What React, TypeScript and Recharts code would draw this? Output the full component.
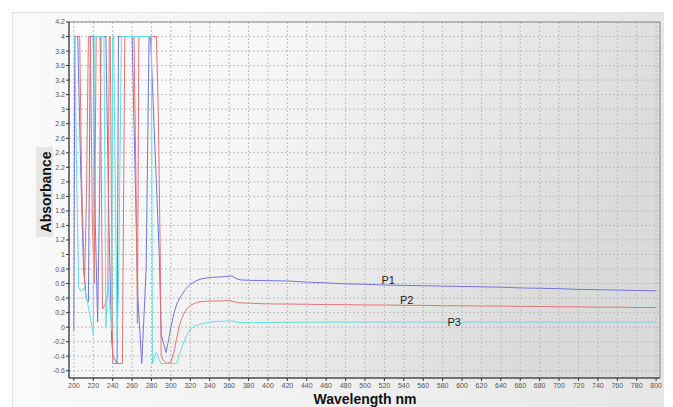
import React from 'react';
import { LineChart, Line, XAxis, YAxis, CartesianGrid, ReferenceArea, ReferenceDot } from 'recharts';

const xTicks = [200, 220, 240, 260, 280, 300, 320, 340, 360, 380, 400, 420, 440, 460, 480, 500, 520, 540, 560, 580, 600, 620, 640, 660, 680, 700, 720, 740, 760, 780, 800];
const yTicks = [-0.6, -0.4, -0.2, 0, 0.2, 0.4, 0.6, 0.8, 1, 1.2, 1.4, 1.6, 1.8, 2, 2.2, 2.4, 2.6, 2.8, 3, 3.2, 3.4, 3.6, 3.8, 4, 4.2];

const p1Wavelength = [200, 201, 204, 207, 210, 213, 215, 217, 220, 222, 224.5, 226.5, 228, 233, 236, 239, 240.5, 244.5, 246, 260, 263, 266, 270, 274.5, 277.5, 279, 282, 288, 290, 292, 295, 298, 300, 303, 306, 310, 315, 320, 325, 330, 340, 350, 360, 363, 367, 372, 380, 400, 420, 440, 460, 480, 500, 520, 540, 560, 580, 600, 620, 640, 660, 680, 700, 720, 740, 760, 780, 800];
const p1Absorbance = [-0.05, 4, 4, 2.2, 0.8, 0.38, 0.35, 4, 4, 1.5, 0.07, 1.8, 4, 4, 1.5, -0.2, -0.4, -0.5, 4, 4, 2.2, 0.4, -0.5, 0.8, 4, 4, 3.0, 1.0, -0.1, -0.2, -0.35, -0.15, 0, 0.18, 0.32, 0.42, 0.52, 0.59, 0.63, 0.66, 0.685, 0.69, 0.7, 0.705, 0.67, 0.65, 0.645, 0.64, 0.635, 0.62, 0.61, 0.595, 0.59, 0.58, 0.575, 0.57, 0.565, 0.56, 0.555, 0.55, 0.54, 0.535, 0.53, 0.52, 0.515, 0.51, 0.505, 0.5];

const p2Wavelength = [200, 206, 208, 211, 213, 215, 217, 219, 221, 223, 227, 229.5, 232, 235, 236.5, 237.5, 240, 250, 252.5, 262, 264, 265.5, 267, 285, 287, 289, 290, 292, 296, 300, 303, 306, 309, 313, 317, 320, 325, 330, 340, 350, 360, 365, 370, 380, 400, 420, 440, 460, 480, 500, 520, 540, 560, 580, 600, 620, 640, 660, 680, 700, 720, 740, 760, 780, 800];
const p2Absorbance = [4, 4, 2.0, 0.6, 1.8, 4, 4, 1.5, 0.6, 4, 4, 0.25, 0.3, 0.45, 4, 4, -0.5, -0.5, 4, 4, 2.0, 0.05, 4, 4, 3.0, 1.0, -0.4, -0.45, -0.5, -0.48, -0.35, -0.15, 0.03, 0.18, 0.26, 0.3, 0.33, 0.35, 0.36, 0.36, 0.365, 0.35, 0.335, 0.33, 0.32, 0.318, 0.315, 0.31, 0.31, 0.305, 0.305, 0.3, 0.3, 0.295, 0.295, 0.29, 0.29, 0.285, 0.285, 0.28, 0.28, 0.275, 0.275, 0.27, 0.27];

const p3Wavelength = [200, 201, 203, 205, 207, 209, 211, 216, 220, 221, 231, 233, 235, 237, 239, 240, 241, 244.5, 246, 249, 280, 281, 285, 288, 290, 306, 310, 315, 320, 325, 330, 340, 350, 360, 365, 370, 380, 400, 450, 500, 550, 600, 650, 700, 750, 800];
const p3Absorbance = [4, 4, 2.0, 0.55, 0.5, 0.5, 0.55, 0.2, -0.1, 4, 4, 0.0, 0.65, 0.3, -0.05, 4, 4, -0.15, 0.5, 4, 4, -0.5, -0.35, -0.45, -0.5, -0.5, -0.33, -0.15, -0.03, 0.02, 0.04, 0.07, 0.08, 0.085, 0.08, 0.065, 0.06, 0.065, 0.068, 0.07, 0.07, 0.07, 0.07, 0.07, 0.07, 0.07];

const seriesNames = ['P1', 'P2', 'P3'];
const labelWavelength = [524, 543, 592];
const labelAbsorbance = [0.65, 0.373, 0.071];

const toPoints = (xs: number[], ys: number[]) => xs.map((x, i) => ({ x, y: ys[i] }));
const p1Data = toPoints(p1Wavelength, p1Absorbance);
const p2Data = toPoints(p2Wavelength, p2Absorbance);
const p3Data = toPoints(p3Wavelength, p3Absorbance);

const FONT = '"Liberation Sans", Arial, sans-serif';
const tickStyle = { fontSize: 7, fill: '#555', fontFamily: FONT };

export default function App() {
  return (
    <div style={{ position: 'absolute', left: 0, top: 0, width: 673, height: 407, background: '#ffffff', overflow: 'hidden', fontFamily: FONT }}>
      <div style={{ position: 'absolute', left: 12, top: 12, width: 651, height: 400, borderTop: '1px solid #e2e2e2', borderLeft: '1px solid #e2e2e2', background: 'linear-gradient(to right, #fafafa 0%, #f2f2f2 40%, #e6e6e6 100%)' }} />
      <div style={{ position: 'absolute', left: 36, top: 147, width: 17, height: 90, background: '#e6e6e6' }} />
      <div style={{ position: 'absolute', left: 0, top: 0 }}>
        <LineChart width={673} height={407} margin={{ top: 22, right: 13, bottom: 0, left: 0 }}>
          <defs>
            <linearGradient id="plotBg" x1="0" y1="0" x2="1" y2="0.35">
              <stop offset="0%" stopColor="#fdfdfd" />
              <stop offset="35%" stopColor="#f6f6f6" />
              <stop offset="100%" stopColor="#dadada" />
            </linearGradient>
          </defs>
          <CartesianGrid stroke="#bdbdbd" strokeDasharray="2 2" fill="url(#plotBg)" fillOpacity={1} />
          <XAxis
            dataKey="x"
            type="number"
            domain={[195, 804]}
            ticks={xTicks}
            interval={0}
            allowDataOverflow
            height={29}
            tick={tickStyle}
            tickSize={3}
            tickMargin={2}
            axisLine={{ stroke: '#333' }}
            tickLine={{ stroke: '#333' }}
          />
          <YAxis
            type="number"
            domain={[-0.7, 4.2]}
            ticks={yTicks}
            interval={0}
            allowDataOverflow
            width={69}
            tick={tickStyle}
            tickSize={3}
            tickMargin={1}
            tickFormatter={(v: number) => String(v)}
            axisLine={{ stroke: '#333' }}
            tickLine={{ stroke: '#333' }}
          />
          <ReferenceArea x1={195} x2={804} y1={-0.7} y2={4.2} fill="none" stroke="#8a8a8a" strokeWidth={1} />
          <Line data={p1Data} dataKey="y" name={seriesNames[0]} type="linear" stroke="#7474dc" strokeWidth={1} dot={false} isAnimationActive={false} />
          <Line data={p2Data} dataKey="y" name={seriesNames[1]} type="linear" stroke="#e27474" strokeWidth={1} dot={false} isAnimationActive={false} />
          <Line data={p3Data} dataKey="y" name={seriesNames[2]} type="linear" stroke="#62e0e0" strokeWidth={1} dot={false} isAnimationActive={false} />
          {seriesNames.map((n, i) => (
            <ReferenceDot key={n} x={labelWavelength[i]} y={labelAbsorbance[i]} r={0} fill="none" stroke="none"
              label={{ value: n, position: 'center', fontSize: 11, fill: '#222', fontFamily: FONT }} />
          ))}
        </LineChart>
      </div>
      <div style={{ position: 'absolute', left: 45.5, top: 192, transform: 'translate(-50%, -50%) rotate(-90deg)', fontSize: 14, fontWeight: 'bold', color: '#111', whiteSpace: 'nowrap', lineHeight: '14px' }}>Absorbance</div>
      <div style={{ position: 'absolute', left: 365, top: 392, transform: 'translateX(-50%)', fontSize: 14, fontWeight: 'bold', color: '#111', whiteSpace: 'nowrap', lineHeight: '14px' }}>Wavelength nm</div>
    </div>
  );
}
